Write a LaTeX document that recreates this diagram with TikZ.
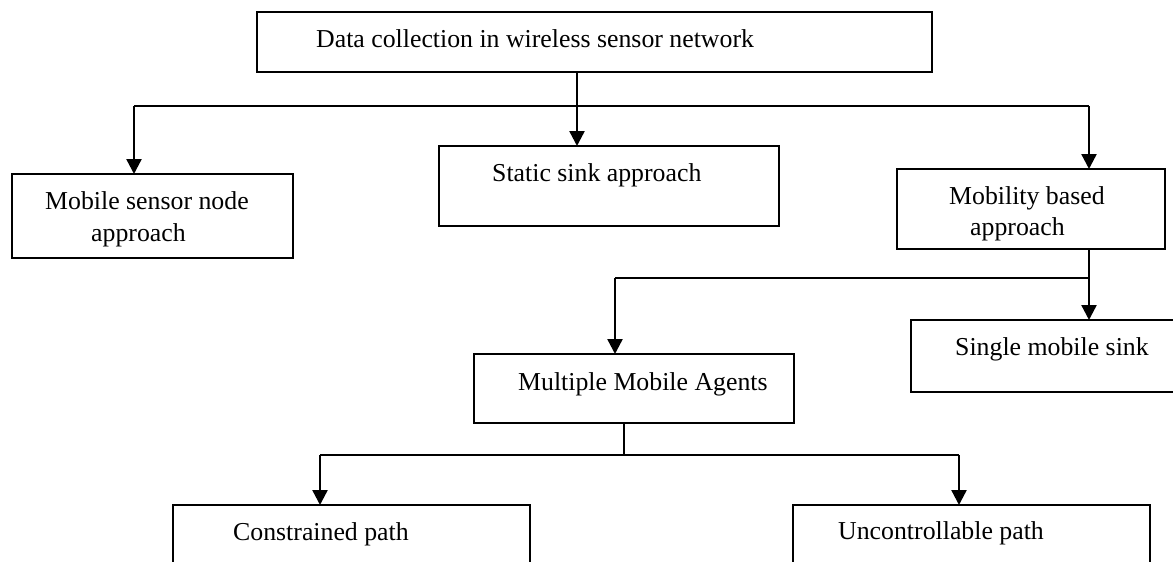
\documentclass[tikz,border=0pt]{standalone}
\usepackage{fontspec}
\setmainfont{Liberation Serif}
\usetikzlibrary{arrows.meta}

\tikzset{
  box/.style={draw, line width=2.2pt, rectangle, inner sep=0pt, outer sep=0pt, anchor=north west},
  lbl/.style={inner sep=0pt, anchor=base west, font=\fontsize{25.8}{31}\selectfont},
  conn/.style={line width=2.4pt},
  arr/.style={conn, -{Triangle[length=15pt,width=15pt]}},
}

\begin{document}
\begin{tikzpicture}[x=1pt, y=-1pt]
  \useasboundingbox (0,0) rectangle (1173,562);
  \clip (0,0) rectangle (1173,562);
  \fill[white] (0,0) rectangle (1173,562);

  % boxes
  \node[box, minimum width=675, minimum height=60] (root)   at (257,12)  {};
  \node[box, minimum width=281, minimum height=84] (mobsn)  at (12,174)  {};
  \node[box, minimum width=340, minimum height=80] (static) at (439,146) {};
  \node[box, minimum width=268, minimum height=80] (mobil)  at (897,169) {};
  \node[box, minimum width=275, minimum height=72] (single) at (911,320) {};
  \node[box, minimum width=320, minimum height=69] (multi)  at (474,354) {};
  \node[box, minimum width=357, minimum height=100] (cons)  at (173,505) {};
  \node[box, minimum width=357, minimum height=100] (unctl) at (793,505) {};

  % labels (positioned on their baselines)
  \node[lbl] (troot)   at (316,47)  {Data collection in wireless sensor network};
  \node[lbl] (tmobsn1) at (45,209)  {Mobile sensor node};
  \node[lbl] (tmobsn2) at (91,241)  {approach};
  \node[lbl] (tstatic) at (492,181) {Static sink approach};
  \node[lbl] (tmobil1) at (949,204) {Mobility based};
  \node[lbl] (tmobil2) at (970,235) {approach};
  \node[lbl] (tsingle) at (955,355) {Single mobile sink};
  \node[lbl] (tmulti)  at (518,390) {Multiple Mobile Agents};
  \node[lbl] (tcons)   at (233,540) {Constrained path};
  \node[lbl] (tunctl)  at (838,539) {Uncontrollable path};

  % junction points of the connectors
  \coordinate (a1) at (577,106);
  \coordinate (a1L) at (134,106);
  \coordinate (a1R) at (1089,106);
  \coordinate (a2) at (1089,278);
  \coordinate (a2L) at (615,278);
  \coordinate (a3) at (624,455);
  \coordinate (a3L) at (320,455);
  \coordinate (a3R) at (959,455);

  % first level
  \draw[conn] (root.south -| a1) -- (a1);
  \draw[conn] (a1L) -- (a1R);
  \draw[arr] (a1L) -- (a1L |- mobsn.north);
  \draw[arr] (a1) -- (a1 |- static.north);
  \draw[arr] (a1R) -- (a1R |- mobil.north);

  % second level
  \draw[conn] (mobil.south -| a2) -- (a2);
  \draw[conn] (a2L) -- (a2);
  \draw[arr] (a2) -- (a2 |- single.north);
  \draw[arr] (a2L) -- (a2L |- multi.north);

  % third level
  \draw[conn] (multi.south -| a3) -- (a3);
  \draw[conn] (a3L) -- (a3R);
  \draw[arr] (a3L) -- (a3L |- cons.north);
  \draw[arr] (a3R) -- (a3R |- unctl.north);
\end{tikzpicture}
\end{document}
